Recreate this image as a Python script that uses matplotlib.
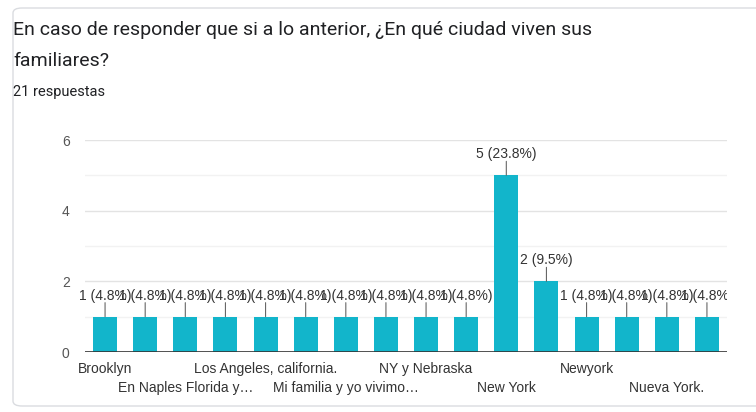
import matplotlib.pyplot as plt
from matplotlib.patches import FancyBboxPatch

plt.rcParams['font.family'] = ['Roboto', 'DejaVu Sans']
chart_font = ['Liberation Sans', 'DejaVu Sans']

# respuestas por ciudad (orden alfabético, como las muestra el formulario)
cities = ['Brooklyn', 'Chicago', 'En Naples Florida y…', 'Florida',
          'Los Angeles, california.', 'Los Ángeles', 'Mi familia y yo vivimo…', 'NY',
          'NY y Nebraska', 'Nebraska', 'New York', 'New York.',
          'Newyork', 'Nueva York', 'Nueva York.', 'Queens']
counts = [1, 1, 1, 1, 1, 1, 1, 1, 1, 1, 5, 2, 1, 1, 1, 1]
total = 21
yticks = [0, 2, 4, 6]

bar_color = '#12B5CB'

fig = plt.figure(figsize=(7.56, 4.12), dpi=100)

# tarjeta de fondo
card = FancyBboxPatch((13 / 756, 6 / 412), 760 / 756, 398 / 412,
                      boxstyle='round,pad=0,rounding_size=0.012',
                      transform=fig.transFigure, facecolor='white',
                      edgecolor='#dadce0', linewidth=1.0, zorder=-5)
fig.patches.append(card)

fig.text(13 / 756, 1 - 30 / 412,
         'En caso de responder que si a lo anterior, ¿En qué ciudad viven sus',
         fontsize=14, color='#202124', va='center')
fig.text(13 / 756, 1 - 61 / 412, 'familiares?', fontsize=14,
         color='#202124', va='center')
fig.text(13 / 756, 1 - 92 / 412, f'{total} respuestas', fontsize=10.5,
         color='#202124', va='center')

ax = fig.add_axes([85 / 756, 1 - 352 / 412, 642 / 756, 212 / 412])
x = list(range(len(cities)))
ax.bar(x, counts, width=0.6, color=bar_color, zorder=3)
ax.set_xlim(-0.5, len(cities) - 0.5)
ax.set_ylim(0, 6)

# rejilla: líneas principales cada 2, secundarias cada 1
for v in range(1, 7):
    ax.axhline(v, color='#e3e3e3' if v % 2 == 0 else '#f2f2f2',
               linewidth=1, zorder=1)
ax.axhline(0, color='#333333', linewidth=1.2, zorder=4)

ax.set_yticks(yticks)
ax.set_yticklabels([str(t) for t in yticks], fontsize=10, color='#555555',
                   family=chart_font)
ax.tick_params(axis='y', length=0, pad=11)

# etiquetas del eje x: una de cada dos, alternando en dos filas
ax.set_xticks([])
for i in range(0, len(cities), 2):
    row = (i // 2) % 2
    ax.annotate(cities[i], xy=(i, 0), xycoords='data',
                xytext=(0, -17 - row * 19), textcoords='offset pixels',
                ha='center', va='center', fontsize=10, color='#333333',
                family=chart_font, annotation_clip=False)

for spine in ax.spines.values():
    spine.set_visible(False)

# valores sobre cada barra con línea guía; la última se corta en el borde derecho
last = len(counts) - 1
for i, c in enumerate(counts):
    label = f'{c} ({c / total * 100:.1f}%)'
    ax.annotate('', xy=(i, c), xycoords='data', xytext=(0, 14),
                textcoords='offset pixels',
                arrowprops=dict(arrowstyle='-', color='#666666', lw=0.8,
                                shrinkA=0, shrinkB=0))
    ax.annotate(label, xy=(i, c), xycoords='data', xytext=(0, 21),
                textcoords='offset pixels', ha='center', va='center',
                fontsize=10, color='#333333', family=chart_font,
                clip_on=(i == last))

ax.set_facecolor('none')
fig.savefig('out.png', dpi=100)
